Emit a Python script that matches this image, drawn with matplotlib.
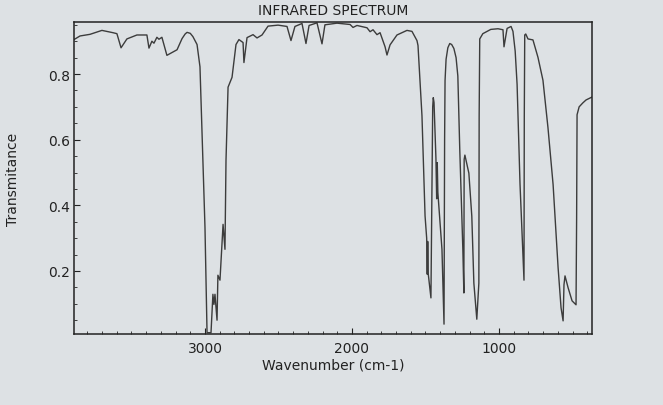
import matplotlib
matplotlib.use("Agg")
import matplotlib.pyplot as plt
from matplotlib.ticker import MultipleLocator

# spectrum (wavenumber in cm-1, transmittance)
wavenumber = [
    3891, 3850, 3782, 3701, 3626, 3599, 3571, 3531, 3463, 3395,
    3381, 3361, 3347, 3327, 3313, 3293, 3259, 3190, 3156, 3135,
    3122, 3100, 3082, 3054, 3034, 3000, 2986, 2959, 2946, 2939,
    2932, 2918, 2912, 2898, 2877, 2864, 2857, 2843, 2816, 2789,
    2769, 2741, 2735, 2714, 2673, 2646, 2612, 2571, 2503, 2442,
    2415, 2388, 2340, 2313, 2292, 2238, 2204, 2184, 2102, 2013,
    1993, 1966, 1898, 1877, 1857, 1830, 1809, 1775, 1762, 1741,
    1694, 1626, 1592, 1558, 1551, 1524, 1503, 1492, 1488, 1485,
    1481, 1463, 1456, 1451, 1447, 1442, 1429, 1424, 1420, 1416,
    1388, 1374, 1372, 1370, 1367, 1360, 1348, 1335, 1322, 1307,
    1292, 1280, 1267, 1246, 1239, 1237, 1232, 1226, 1205, 1185,
    1171, 1151, 1137, 1135, 1131, 1110, 1056, 1007, 973, 966,
    945, 918, 905, 890, 877, 857, 830, 828, 825, 818,
    803, 769, 735, 701, 667, 632, 598, 578, 564, 558,
    551, 530, 503, 476, 472, 469, 455, 430, 408, 367,
]
transmittance = [
    0.905, 0.916, 0.921, 0.933, 0.926, 0.923, 0.880, 0.907, 0.919, 0.919,
    0.879, 0.900, 0.894, 0.912, 0.906, 0.912, 0.857, 0.874, 0.908, 0.922,
    0.927, 0.924, 0.914, 0.890, 0.822, 0.333, 0.012, 0.012, 0.129, 0.098,
    0.129, 0.050, 0.187, 0.172, 0.342, 0.266, 0.537, 0.760, 0.790, 0.890,
    0.905, 0.896, 0.835, 0.911, 0.920, 0.910, 0.919, 0.946, 0.949, 0.945,
    0.902, 0.945, 0.954, 0.893, 0.948, 0.956, 0.892, 0.950, 0.955, 0.951,
    0.942, 0.948, 0.941, 0.929, 0.935, 0.920, 0.926, 0.883, 0.858, 0.889,
    0.919, 0.933, 0.930, 0.902, 0.887, 0.673, 0.368, 0.300, 0.190, 0.290,
    0.190, 0.118, 0.469, 0.700, 0.728, 0.713, 0.543, 0.420, 0.530, 0.440,
    0.266, 0.038, 0.300, 0.600, 0.780, 0.845, 0.880, 0.893, 0.890, 0.878,
    0.850, 0.794, 0.572, 0.267, 0.133, 0.540, 0.553, 0.541, 0.498, 0.367,
    0.163, 0.053, 0.163, 0.672, 0.907, 0.923, 0.936, 0.938, 0.935, 0.883,
    0.939, 0.945, 0.930, 0.870, 0.769, 0.464, 0.172, 0.669, 0.919, 0.922,
    0.907, 0.904, 0.851, 0.781, 0.637, 0.463, 0.210, 0.088, 0.048, 0.158,
    0.185, 0.149, 0.109, 0.097, 0.362, 0.676, 0.700, 0.712, 0.721, 0.730,
]

x_ticks = [3000, 2000, 1000]
y_ticks = [0.2, 0.4, 0.6, 0.8]

bg = '#dde1e4'
ink = '#222222'

fig = plt.figure(figsize=(6.63, 4.06), dpi=100, facecolor=bg)
ax = fig.add_axes([0.1116, 0.1749, 0.7814, 0.7684], facecolor=bg)

ax.plot(wavenumber, transmittance, color='#3c3c3c', linewidth=1.0)

ax.set_xlim(3891, 367)
ax.set_ylim(0.008, 0.9585)

ax.set_xticks(x_ticks)
ax.set_yticks(y_ticks)
ax.xaxis.set_minor_locator(MultipleLocator(100))
ax.yaxis.set_minor_locator(MultipleLocator(0.05))
ax.tick_params(which='both', direction='in', colors=ink, labelsize=10)
ax.tick_params(axis='x', which='major', length=4, pad=5)
ax.tick_params(axis='y', which='major', length=4, pad=3)
ax.tick_params(which='minor', length=2)

for side in ax.spines.values():
    side.set_color(ink)
    side.set_linewidth(1.1)

ax.set_title('INFRARED SPECTRUM', fontsize=10, color=ink, pad=6)
ax.set_xlabel('Wavenumber (cm-1)', fontsize=10, color=ink, labelpad=2)
ax.set_ylabel('Transmitance', fontsize=10, color=ink, labelpad=20)

fig.savefig('out.png', dpi=100, facecolor=bg)
